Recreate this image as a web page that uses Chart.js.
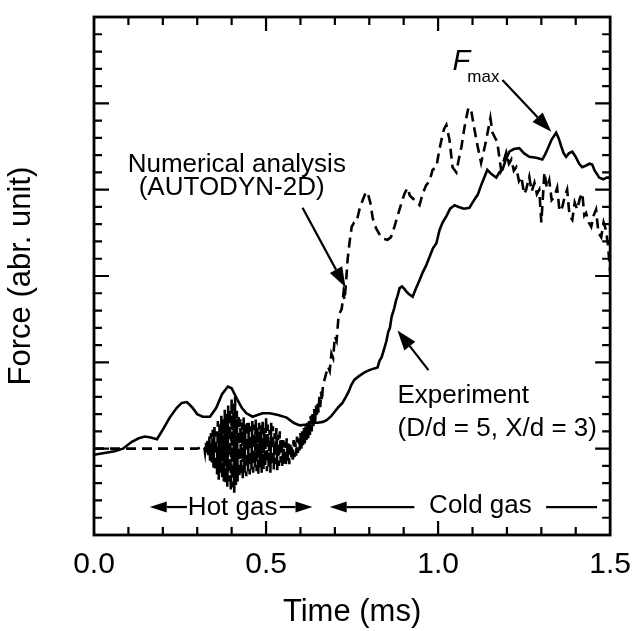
<!DOCTYPE html>
<html>
<head>
<meta charset="utf-8">
<script src="https://cdn.jsdelivr.net/npm/chart.js@4.4.0/dist/chart.umd.min.js"></script>
<style>
  html, body { margin: 0; padding: 0; background: #fff; }
  #wrap { width: 635px; height: 631px; }
</style>
</head>
<body>
<div id="wrap"><canvas id="chart" width="635" height="631"></canvas></div>
<script>
// Experiment (D/d = 5, X/d = 3) - solid line
var expTime = [0.000, 0.030, 0.060, 0.084, 0.110, 0.130, 0.148, 0.165, 0.183, 0.200,
  0.220, 0.240, 0.255, 0.270, 0.285, 0.300, 0.316, 0.337, 0.355, 0.372,
  0.389, 0.400, 0.415, 0.430, 0.443, 0.461, 0.475, 0.490, 0.511, 0.535,
  0.560, 0.580, 0.598, 0.620, 0.636, 0.650, 0.665, 0.676, 0.690, 0.700,
  0.710, 0.722, 0.732, 0.740, 0.748, 0.757, 0.770, 0.785, 0.800, 0.815,
  0.824, 0.830, 0.836, 0.845, 0.850, 0.855, 0.860, 0.865, 0.872, 0.878,
  0.883, 0.888, 0.895, 0.902, 0.908, 0.915, 0.926, 0.935, 0.946, 0.955,
  0.965, 0.975, 0.985, 0.995, 1.004, 1.013, 1.025, 1.035, 1.048, 1.060,
  1.075, 1.091, 1.100, 1.108, 1.115, 1.125, 1.135, 1.143, 1.155, 1.169,
  1.178, 1.187, 1.197, 1.207, 1.220, 1.236, 1.250, 1.265, 1.285, 1.303,
  1.310, 1.317, 1.330, 1.343, 1.350, 1.358, 1.365, 1.372, 1.380, 1.390,
  1.400, 1.410, 1.419, 1.430, 1.440, 1.448, 1.455, 1.462, 1.468, 1.480,
  1.490, 1.500];
var expForce = [0.93, 0.95, 0.97, 1.00, 1.08, 1.12, 1.14, 1.13, 1.11, 1.22,
  1.36, 1.47, 1.53, 1.54, 1.48, 1.40, 1.37, 1.37, 1.47, 1.63,
  1.72, 1.70, 1.58, 1.47, 1.41, 1.37, 1.39, 1.41, 1.41, 1.39,
  1.36, 1.30, 1.27, 1.28, 1.30, 1.30, 1.31, 1.33, 1.38, 1.43,
  1.48, 1.53, 1.60, 1.66, 1.74, 1.80, 1.84, 1.88, 1.91, 1.93,
  1.94, 2.02, 2.06, 2.18, 2.25, 2.35, 2.40, 2.53, 2.62, 2.72,
  2.78, 2.86, 2.88, 2.85, 2.82, 2.79, 2.76, 2.85, 2.95, 3.04,
  3.12, 3.22, 3.32, 3.38, 3.53, 3.62, 3.70, 3.78, 3.82, 3.80,
  3.78, 3.79, 3.85, 3.90, 3.94, 4.05, 4.15, 4.23, 4.18, 4.14,
  4.20, 4.23, 4.35, 4.44, 4.47, 4.48, 4.42, 4.38, 4.37, 4.35,
  4.40, 4.46, 4.58, 4.66, 4.60, 4.50, 4.42, 4.38, 4.42, 4.44,
  4.38, 4.30, 4.26, 4.28, 4.30, 4.29, 4.22, 4.18, 4.14, 4.12,
  4.14, 4.14];

// Numerical analysis (AUTODYN-2D) - dashed line
var simTime = [0.000, 0.300,
  0.3200, 0.3225, 0.3250, 0.3275, 0.3300, 0.3325, 0.3350, 0.3375, 0.3400, 0.3425,
  0.3450, 0.3475, 0.3500, 0.3525, 0.3550, 0.3575, 0.3600, 0.3625, 0.3650, 0.3675,
  0.3700, 0.3725, 0.3750, 0.3775, 0.3800, 0.3825, 0.3850, 0.3875, 0.3900, 0.3925,
  0.3950, 0.3975, 0.4000, 0.4025, 0.4050, 0.4075, 0.4100, 0.4125, 0.4150, 0.4175,
  0.4200, 0.4225, 0.4250, 0.4275, 0.4300, 0.4325, 0.4350, 0.4375, 0.4400, 0.4425,
  0.4450, 0.4475, 0.4500, 0.4525, 0.4550, 0.4575, 0.4600, 0.4625, 0.4650, 0.4675,
  0.4700, 0.4725, 0.4750, 0.4775, 0.4800, 0.4825, 0.4850, 0.4875, 0.4900, 0.4925,
  0.4950, 0.4975, 0.5000, 0.5025, 0.5050, 0.5075, 0.5100, 0.5125, 0.5150, 0.5175,
  0.5200, 0.5225, 0.5250, 0.5275, 0.5300, 0.5325, 0.5350, 0.5375, 0.5400, 0.5425,
  0.5450, 0.5475, 0.5500, 0.5525, 0.5550, 0.5575, 0.5600, 0.5625, 0.5650, 0.5675,
  0.5700, 0.5725, 0.5750, 0.5775, 0.5800, 0.5825, 0.5850, 0.5875, 0.5900, 0.5925,
  0.5950, 0.5975, 0.6000, 0.6025, 0.6050, 0.6075, 0.6100, 0.6125, 0.6150, 0.6175,
  0.6200, 0.6225, 0.6250, 0.6275, 0.6300, 0.6325, 0.6350, 0.6375, 0.6400, 0.6425,
  0.6450, 0.6475, 0.6500, 0.6525, 0.6550, 0.6575, 0.6600, 0.6625, 0.6650,
  0.670, 0.680, 0.685, 0.690, 0.695, 0.700, 0.705, 0.710,
  0.714, 0.720, 0.725, 0.728, 0.732, 0.737, 0.743, 0.749, 0.756, 0.763,
  0.772, 0.781, 0.790, 0.795, 0.803, 0.810, 0.820, 0.830, 0.840, 0.853,
  0.863, 0.873, 0.884, 0.894, 0.902, 0.911, 0.918, 0.926, 0.936, 0.946,
  0.955, 0.965, 0.975, 0.984, 0.995, 1.003, 1.010, 1.017, 1.024, 1.033,
  1.042, 1.053, 1.060, 1.068, 1.077, 1.088, 1.096, 1.106, 1.115, 1.125,
  1.133, 1.140, 1.152, 1.158, 1.172, 1.183, 1.198, 1.206, 1.213, 1.220,
  1.227, 1.235, 1.242, 1.250, 1.256, 1.265, 1.272, 1.280, 1.287, 1.294,
  1.300, 1.309, 1.316, 1.323, 1.330, 1.338, 1.346, 1.353, 1.361, 1.368,
  1.375, 1.382, 1.390, 1.397, 1.404, 1.412, 1.419, 1.425, 1.430, 1.438,
  1.445, 1.452, 1.459, 1.466, 1.474, 1.481, 1.488, 1.494, 1.497, 1.500];
var simForce = [1.00, 1.00,
  1.03, 0.96, 1.08, 0.93, 1.10, 0.90, 1.14, 0.86, 1.18, 0.84,
  1.22, 0.78, 1.25, 0.74, 1.20, 0.70, 1.32, 0.64, 1.28, 0.72,
  1.38, 0.66, 1.35, 0.62, 1.45, 0.60, 1.40, 0.56, 1.50, 0.62,
  1.46, 0.52, 1.58, 0.55, 1.52, 0.49, 1.60, 0.58, 1.44, 0.62,
  1.40, 0.66, 1.34, 0.70, 1.30, 0.64, 1.36, 0.72, 1.28, 0.68,
  1.33, 0.74, 1.30, 0.70, 1.26, 0.76, 1.32, 0.72, 1.28, 0.78,
  1.34, 0.74, 1.25, 0.70, 1.30, 0.78, 1.27, 0.72, 1.33, 0.76,
  1.24, 0.80, 1.36, 0.74, 1.28, 0.78, 1.22, 0.72, 1.30, 0.80,
  1.26, 0.76, 1.18, 0.82, 1.24, 0.75, 1.16, 0.80, 1.20, 0.84,
  1.12, 0.78, 1.10, 0.82, 1.08, 0.80, 1.12, 0.86, 1.06, 0.82,
  1.08, 0.88, 1.04, 0.84, 1.10, 0.90, 1.08, 0.92, 1.14, 0.95,
  1.12, 0.98, 1.18, 1.00, 1.20, 1.04, 1.24, 1.06, 1.26, 1.10,
  1.30, 1.12, 1.32, 1.16, 1.38, 1.20, 1.40, 1.26, 1.46, 1.30,
  1.50, 1.36, 1.55, 1.42, 1.60, 1.48, 1.66, 1.55, 1.72,
  1.80, 1.95, 1.90, 2.10, 2.05, 2.30, 2.25, 2.50,
  2.57, 2.62, 2.80, 2.72, 2.90, 3.19, 3.40, 3.57, 3.62, 3.63,
  3.78, 3.88, 3.97, 3.97, 3.85, 3.67, 3.55, 3.48, 3.43, 3.42,
  3.45, 3.57, 3.72, 3.85, 3.95, 4.02, 3.93, 3.90, 3.86, 3.82,
  3.95, 4.05, 4.10, 4.23, 4.26, 4.45, 4.58, 4.70, 4.75, 4.58,
  4.26, 4.20, 4.35, 4.50, 4.73, 4.95, 4.92, 4.69, 4.50, 4.31,
  4.45, 4.58, 4.83, 4.66, 4.55, 4.23, 4.43, 4.30, 4.35, 4.22,
  4.26, 4.10, 4.15, 3.95, 4.00, 4.15, 3.98, 4.08, 3.95, 4.00,
  3.62, 4.20, 4.02, 4.11, 3.88, 3.92, 4.02, 3.75, 3.80, 3.92,
  4.00, 3.70, 3.65, 3.85, 3.77, 3.90, 3.96, 3.70, 3.73, 3.62,
  3.57, 3.70, 3.77, 3.50, 3.45, 3.62, 3.53, 3.35, 3.19, 3.05];

var xTickLabels = ['0.0', '0.5', '1.0', '1.5'];

var FONT = '"Liberation Sans", Arial, sans-serif';

function toPoints(xs, ys) {
  return xs.map(function(x, i) { return { x: x, y: ys[i] }; });
}

// frame with inward ticks on all four sides
var framePlugin = {
  id: 'frame',
  afterDraw: function(chart) {
    var ctx = chart.ctx;
    var a = chart.chartArea;
    var xs = chart.scales.x;
    var ys = chart.scales.y;
    ctx.save();
    ctx.strokeStyle = '#000';
    ctx.lineWidth = 2.2;
    ctx.beginPath();
    xs.ticks.forEach(function(t) {
      var px = xs.getPixelForValue(t.value);
      if (px < a.left + 2 || px > a.right - 2) return;
      var major = Math.round(t.value * 10) % 5 === 0;
      var len = major ? 14 : 8;
      ctx.moveTo(px, a.bottom); ctx.lineTo(px, a.bottom - len);
      ctx.moveTo(px, a.top); ctx.lineTo(px, a.top + len);
    });
    ys.ticks.forEach(function(t) {
      var py = ys.getPixelForValue(t.value);
      if (py < a.top + 2 || py > a.bottom - 2) return;
      var major = Math.round(t.value * 5) % 5 === 0;
      var len = major ? 15 : 8;
      ctx.moveTo(a.left, py); ctx.lineTo(a.left + len, py);
      ctx.moveTo(a.right, py); ctx.lineTo(a.right - len, py);
    });
    ctx.stroke();
    ctx.lineWidth = 2.8;
    ctx.strokeRect(a.left, a.top, a.right - a.left, a.bottom - a.top);
    ctx.restore();
  }
};

function arrow(ctx, x1, y1, x2, y2, headLen, headW) {
  var ang = Math.atan2(y2 - y1, x2 - x1);
  var bx = x2 - headLen * Math.cos(ang);
  var by = y2 - headLen * Math.sin(ang);
  ctx.beginPath();
  ctx.moveTo(x1, y1);
  ctx.lineTo(bx, by);
  ctx.stroke();
  ctx.beginPath();
  ctx.moveTo(x2, y2);
  ctx.lineTo(bx + headW * Math.sin(ang), by - headW * Math.cos(ang));
  ctx.lineTo(bx - headW * Math.sin(ang), by + headW * Math.cos(ang));
  ctx.closePath();
  ctx.fill();
}

// labels and arrows placed in data units
var notesPlugin = {
  id: 'notes',
  afterDatasetsDraw: function(chart) {
    var ctx = chart.ctx;
    var xs = chart.scales.x, ys = chart.scales.y;
    function X(v) { return xs.getPixelForValue(v); }
    function Y(v) { return ys.getPixelForValue(v); }
    ctx.save();
    ctx.fillStyle = '#000';
    ctx.strokeStyle = '#000';
    ctx.lineWidth = 2.2;
    ctx.textBaseline = 'alphabetic';
    ctx.font = '26px ' + FONT;

    ctx.textAlign = 'center';
    ctx.fillText('Numerical analysis', X(0.415), Y(4.20));
    ctx.fillText('(AUTODYN-2D)', X(0.400), Y(3.94));
    arrow(ctx, X(0.606), Y(3.79), X(0.731), Y(2.87), 20, 7);

    ctx.textAlign = 'left';
    ctx.fillText('Experiment', X(0.882), Y(1.53));
    ctx.fillText('(D/d = 5, X/d = 3)', X(0.882), Y(1.15));
    arrow(ctx, X(0.972), Y(1.91), X(0.882), Y(2.37), 20, 7);

    ctx.font = 'italic 29px ' + FONT;
    ctx.fillText('F', X(1.042), Y(5.39));
    ctx.font = '17px ' + FONT;
    ctx.fillText('max', X(1.085), Y(5.25));
    arrow(ctx, X(1.187), Y(5.27), X(1.329), Y(4.67), 20, 7);

    ctx.font = '26px ' + FONT;
    ctx.textAlign = 'center';
    ctx.fillText('Hot gas', X(0.403), Y(0.23));
    arrow(ctx, X(0.27), Y(0.324), X(0.162), Y(0.324), 17, 5.5);
    arrow(ctx, X(0.54), Y(0.324), X(0.635), Y(0.324), 17, 5.5);

    ctx.fillText('Cold gas', X(1.123), Y(0.255));
    arrow(ctx, X(0.931), Y(0.324), X(0.685), Y(0.324), 17, 5.5);
    ctx.beginPath();
    ctx.moveTo(X(1.314), Y(0.324));
    ctx.lineTo(X(1.462), Y(0.324));
    ctx.stroke();
    ctx.restore();
  }
};

var ctx = document.getElementById('chart').getContext('2d');
var chart = new Chart(ctx, {
  type: 'line',
  data: {
    datasets: [
      {
        label: 'Experiment',
        data: toPoints(expTime, expForce),
        borderColor: '#000',
        borderWidth: 2.6,
        pointRadius: 0,
        fill: false,
        tension: 0
      },
      {
        label: 'Numerical analysis',
        data: toPoints(simTime, simForce),
        borderColor: '#000',
        borderWidth: 2.6,
        borderDash: [10, 6],
        pointRadius: 0,
        fill: false,
        tension: 0
      }
    ]
  },
  options: {
    responsive: false,
    animation: false,
    devicePixelRatio: 1,
    layout: { padding: { top: 17, right: 24, left: 0, bottom: 0 } },
    plugins: {
      legend: { display: false },
      tooltip: { enabled: false }
    },
    scales: {
      x: {
        type: 'linear',
        min: 0,
        max: 1.5,
        afterFit: function(s) { s.height = 96; },
        ticks: {
          stepSize: 0.1,
          autoSkip: false,
          maxRotation: 0,
          padding: 4,
          color: '#000',
          font: { size: 30, family: FONT },
          callback: function(v) {
            var i = Math.round(v * 10);
            return i % 5 === 0 ? xTickLabels[i / 5] : '';
          }
        },
        grid: { display: false },
        border: { display: false },
        title: {
          display: true,
          text: 'Time (ms)',
          color: '#000',
          padding: { top: 0, bottom: 0 },
          font: { size: 31, family: FONT }
        }
      },
      y: {
        min: 0,
        max: 6,
        afterFit: function(s) { s.width = 94; },
        ticks: {
          stepSize: 0.2,
          autoSkip: false,
          callback: function() { return ''; }
        },
        grid: { display: false },
        border: { display: false },
        title: {
          display: true,
          text: 'Force (abr. unit)',
          color: '#000',
          padding: { top: 3, bottom: 0 },
          font: { size: 31, family: FONT }
        }
      }
    }
  },
  plugins: [framePlugin, notesPlugin]
});
</script>
</body>
</html>
